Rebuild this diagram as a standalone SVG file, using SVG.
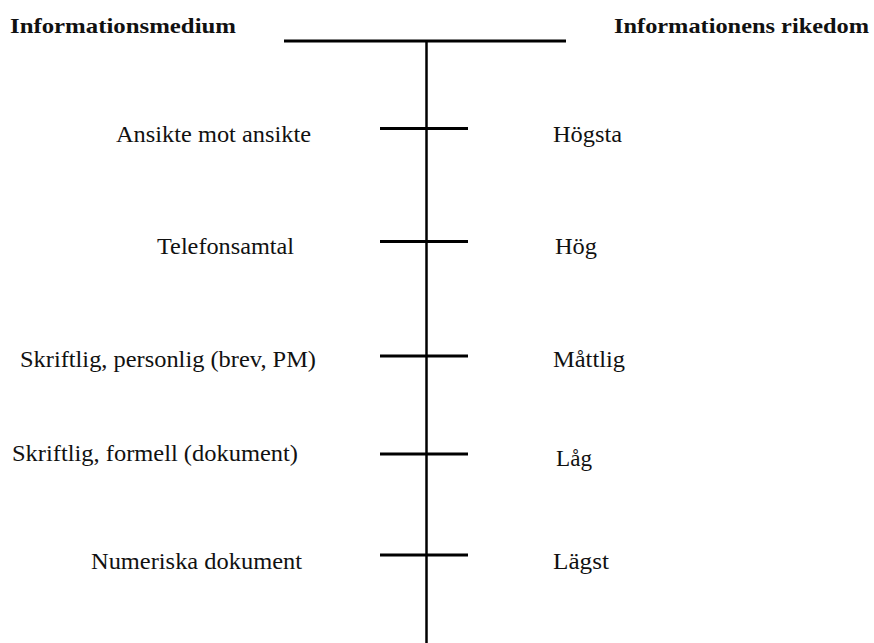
<svg xmlns="http://www.w3.org/2000/svg" width="874" height="643" viewBox="0 0 874 643">
<style>
text{font-family:'Liberation Serif',Tinos,'Times New Roman',Times,serif;fill:#111;}
.h{font-weight:bold;font-size:22px;}
.t{font-size:24px;}
.ln{stroke:#000;fill:none;}
</style>
<rect width="874" height="643" fill="#fff"/>
<g id="connectors">
<line class="ln" x1="284" y1="41" x2="566" y2="41" stroke-width="3"/>
<line class="ln" x1="426.5" y1="41" x2="426.5" y2="643" stroke-width="2.5"/>
<line class="ln" x1="380" y1="128.5" x2="468" y2="128.5" stroke-width="3"/>
<line class="ln" x1="380" y1="241.5" x2="468" y2="241.5" stroke-width="3"/>
<line class="ln" x1="380" y1="356" x2="468" y2="356" stroke-width="3"/>
<line class="ln" x1="380" y1="454" x2="468" y2="454" stroke-width="3"/>
<line class="ln" x1="380" y1="555" x2="468" y2="555" stroke-width="3"/>
</g>
<g id="header-medium"><text class="h" x="10" y="33" textLength="226" lengthAdjust="spacingAndGlyphs">Informationsmedium</text></g>
<g id="header-rikedom"><text class="h" x="614" y="33" textLength="255" lengthAdjust="spacingAndGlyphs">Informationens rikedom</text></g>
<g id="m1"><text class="t" x="116" y="142" textLength="195" lengthAdjust="spacingAndGlyphs">Ansikte mot ansikte</text></g>
<g id="r1"><text class="t" x="553" y="142" textLength="69" lengthAdjust="spacingAndGlyphs">Högsta</text></g>
<g id="m2"><text class="t" x="157" y="254" textLength="137" lengthAdjust="spacingAndGlyphs">Telefonsamtal</text></g>
<g id="r2"><text class="t" x="555" y="254" textLength="42" lengthAdjust="spacingAndGlyphs">Hög</text></g>
<g id="m3"><text class="t" x="20" y="367" textLength="296" lengthAdjust="spacingAndGlyphs">Skriftlig, personlig (brev, PM)</text></g>
<g id="r3"><text class="t" x="553" y="367" textLength="72" lengthAdjust="spacingAndGlyphs">Måttlig</text></g>
<g id="m4"><text class="t" x="12" y="461" textLength="286" lengthAdjust="spacingAndGlyphs">Skriftlig, formell (dokument)</text></g>
<g id="r4"><text class="t" x="556" y="466" textLength="36" lengthAdjust="spacingAndGlyphs">Låg</text></g>
<g id="m5"><text class="t" x="91" y="569" textLength="211" lengthAdjust="spacingAndGlyphs">Numeriska dokument</text></g>
<g id="r5"><text class="t" x="553" y="569" textLength="56" lengthAdjust="spacingAndGlyphs">Lägst</text></g>
</svg>
